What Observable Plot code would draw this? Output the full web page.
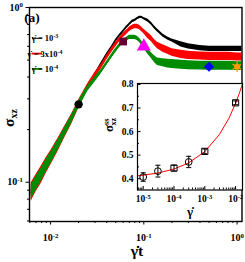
<!DOCTYPE html>
<html><head><meta charset="utf-8">
<script src="https://cdn.jsdelivr.net/npm/d3@7"></script>
<script src="https://cdn.jsdelivr.net/npm/@observablehq/plot@0.6"></script>
<style>
html,body{margin:0;padding:0;background:#fff;}
#wrap{position:relative;width:245px;height:262px;overflow:hidden;}
#wrap svg{position:absolute;left:0;top:0;}
</style></head><body><div id="wrap"></div>
<script>
// ---- main panel data: strain (γ̇t) samples and stress traces ----
const strainT = [0.0062,0.007,0.008,0.009,0.01,0.012,0.014,0.017,0.02,0.025,0.03,0.035,0.04,0.045,0.05,0.055,0.06,0.065,0.07,0.075,0.08,0.085,0.09,0.095,0.1,0.11,0.12,0.13,0.14,0.16,0.18,0.2,0.25,0.3,0.4,0.5,0.6,0.7,0.8,1.0,1.13];
const sigBlack = [0.0877,0.0987,0.111,0.125,0.137,0.163,0.191,0.232,0.279,0.35,0.414,0.479,0.539,0.591,0.648,0.692,0.729,0.769,0.800,0.832,0.843,0.865,0.877,0.877,0.865,0.843,0.810,0.769,0.739,0.692,0.665,0.648,0.615,0.599,0.585,0.579,0.579,0.579,0.579,0.579,0.579];
const sigRed   = [0.0877,0.0987,0.111,0.125,0.137,0.163,0.191,0.232,0.279,0.35,0.409,0.460,0.518,0.568,0.615,0.656,0.692,0.720,0.749,0.769,0.779,0.779,0.769,0.749,0.729,0.692,0.665,0.631,0.606,0.583,0.568,0.553,0.539,0.532,0.528,0.525,0.525,0.525,0.525,0.521,0.521];
const sigGreen = [0.0877,0.0987,0.111,0.125,0.137,0.163,0.191,0.232,0.279,0.344,0.388,0.431,0.479,0.525,0.568,0.606,0.639,0.656,0.674,0.674,0.674,0.665,0.648,0.623,0.599,0.561,0.532,0.506,0.489,0.483,0.477,0.475,0.470,0.467,0.465,0.464,0.464,0.464,0.464,0.462,0.462];
// fluctuation amplitude (multiplicative)
const noiseBlack = [1.04,1.04,1.035,1.035,1.03,1.03,1.03,1.025,1.025,1.02,1.02,1.015,1.015,1.015,1.015,1.015,1.015,1.015,1.015,1.015,1.015,1.015,1.015,1.015,1.015,1.02,1.02,1.02,1.02,1.02,1.02,1.02,1.035,1.035,1.035,1.035,1.035,1.035,1.035,1.035,1.035];
const noiseRed   = [1.13,1.12,1.12,1.11,1.1,1.09,1.08,1.07,1.06,1.045,1.04,1.03,1.03,1.03,1.03,1.03,1.03,1.03,1.03,1.03,1.03,1.03,1.03,1.03,1.03,1.04,1.04,1.04,1.045,1.05,1.05,1.05,1.055,1.055,1.055,1.055,1.055,1.055,1.055,1.055,1.055];
const noiseGreen = [1.1,1.1,1.09,1.09,1.08,1.07,1.065,1.055,1.05,1.04,1.035,1.028,1.028,1.028,1.028,1.028,1.028,1.028,1.028,1.028,1.028,1.028,1.028,1.028,1.028,1.035,1.04,1.045,1.05,1.055,1.06,1.06,1.06,1.06,1.06,1.06,1.06,1.06,1.06,1.06,1.06];
const legendBase = ["γ̇ = 10","γ̇ = 3x10","γ̇ = 10"];
const legendExp  = ["-3","-4","-4"];
// highlighted states on the γ̇ = 1e-4 trace
const markT = [0.02,0.06,0.1,0.5,1.0];
const markS = [0.279,0.639,0.599,0.458,0.458];
// main axis ticks
const xMajor = [0.01,0.1,1];
const xMinor = [0.006,0.007,0.008,0.009,0.02,0.03,0.04,0.05,0.06,0.07,0.08,0.09,0.2,0.3,0.4,0.5,0.6,0.7,0.8,0.9];
const yMajor = [0.1,1];
const yMinor = [0.06,0.07,0.08,0.09,0.2,0.3,0.4,0.5,0.6,0.7,0.8,0.9];
// ---- inset data ----
const rateSS = [1e-5,3e-5,1e-4,3e-4,1e-3,1e-2];
const sigSS = [0.407,0.432,0.445,0.471,0.516,0.722];
const sigSSErr = [0.018,0.025,0.012,0.024,0.010,0.008];
const shapeSS = ["circle","circle","square","circle","square","square"];
const fitRate = [6.3e-6,1e-5,3e-5,1e-4,3e-4,1e-3,3e-3,6e-3,1e-2,1.3e-2,1.65e-2];
const fitSig  = [0.412,0.415,0.424,0.441,0.467,0.515,0.588,0.655,0.720,0.760,0.800];
const inXMajor = [1e-5,1e-4,1e-3,1e-2];
const inXMinor = [7e-6,8e-6,9e-6,2e-5,3e-5,4e-5,5e-5,6e-5,7e-5,8e-5,9e-5,2e-4,3e-4,4e-4,5e-4,6e-4,7e-4,8e-4,9e-4,2e-3,3e-3,4e-3,5e-3,6e-3,7e-3,8e-3,9e-3];
const inYMajor = [0.4,0.5,0.6,0.7,0.8];
const inYMinor = [0.45,0.55,0.65,0.75];

const serif = "'Liberation Serif','Times New Roman',serif";
const cBlack = "#000", cRed = "#ff0000", cGreen = "#008c00";
const colors = [cBlack, cRed, cGreen];

function rows(sig, noise){ return strainT.map((t,i)=>({t, s:sig[i], lo:sig[i]/noise[i], hi:sig[i]*noise[i]})); }
const rB = rows(sigBlack, noiseBlack), rR = rows(sigRed, noiseRed), rG = rows(sigGreen, noiseGreen);
const marks = markT.map((t,i)=>({t, s:markS[i]}));
const fmtPow = d => "10^" + Math.round(Math.log10(d));

function trace(r, c, w){
  return [Plot.areaY(r,{x:"t",y1:"lo",y2:"hi",fill:c,clip:true}),
          Plot.lineY(r,{x:"t",y:"s",stroke:c,strokeWidth:w,clip:true})];
}

const main = Plot.plot({
  width:245, height:262, marginLeft:29, marginRight:3.5, marginTop:7, marginBottom:41,
  style:{fontFamily:serif, fontSize:"10px", fontWeight:"bold", background:"#fff", color:"#000"},
  x:{type:"log", domain:[0.00595,1.128], axis:null, label:null},
  y:{type:"log", domain:[0.0596,1], axis:null, label:null},
  marks:[
    ...trace(rB,cBlack,1), ...trace(rR,cRed,1), ...trace(rG,cGreen,1),
    Plot.dot([marks[0]],{x:"t",y:"s",symbol:"circle",fill:"#000",r:4.2}),
    Plot.dot([marks[1]],{x:"t",y:"s",symbol:"square",fill:"#660033",r:4.4}),
    Plot.dot([marks[2]],{x:"t",y:"s",symbol:"triangle",fill:"#ff00ff",r:5.2}),
    Plot.dot([marks[3]],{x:"t",y:"s",symbol:"diamond2",fill:"#0000ff",r:4.6}),
    Plot.dot([marks[4]],{x:"t",y:"s",symbol:"circle",fill:"#ff9900",r:3}),
    Plot.dot([marks[4]],{x:"t",y:"s",symbol:"asterisk",stroke:"#ff9900",strokeWidth:1.2,r:5}),
    Plot.axisX({ticks:xMajor, tickSize:3.5, tickPadding:9, tickFormat:fmtPow, label:null}),
    Plot.axisX({ticks:xMinor, tickSize:2, fill:"none", label:null}),
    Plot.axisY({ticks:yMajor, tickSize:3.5, tickPadding:3, tickFormat:fmtPow, label:null}),
    Plot.axisY({ticks:yMinor, tickSize:2, fill:"none", label:null}),
    Plot.frame({stroke:"#000", strokeWidth:1.4})
  ]
});

const ss = rateSS.map((x,i)=>({x, s:sigSS[i], lo:sigSS[i]-sigSSErr[i], hi:sigSS[i]+sigSSErr[i], shape:shapeSS[i]}));
const fit = fitRate.map((x,i)=>({x, s:fitSig[i]}));
const cap = {draw(ctx, size){ const w = Math.sqrt(size/Math.PI); ctx.moveTo(-w,0); ctx.lineTo(w,0); }};

const inset = Plot.plot({
  width:145, height:142, marginLeft:37, marginRight:3, marginTop:3, marginBottom:32.5,
  style:{fontFamily:serif, fontSize:"9.5px", fontWeight:"bold", background:"transparent", color:"#000"},
  x:{type:"log", domain:[6.53e-6,0.01675], axis:null, label:null},
  y:{domain:[0.352,0.804], axis:null, label:null},
  marks:[
    Plot.frame({fill:"#fff"}),
    Plot.line(fit,{x:"x",y:"s",stroke:cRed,strokeWidth:1,clip:true}),
    Plot.ruleX(ss,{x:"x",y1:"lo",y2:"hi",stroke:"#000",strokeWidth:1}),
    Plot.dot(ss,{x:"x",y:"lo",symbol:cap,r:2.5,stroke:"#000",strokeWidth:1}),
    Plot.dot(ss,{x:"x",y:"hi",symbol:cap,r:2.5,stroke:"#000",strokeWidth:1}),
    Plot.dot(ss,{filter:d=>d.shape==="circle",x:"x",y:"s",symbol:"circle",r:3.4,stroke:"#000",fill:"none",strokeWidth:1}),
    Plot.dot(ss,{filter:d=>d.shape==="square",x:"x",y:"s",symbol:"square",r:3.5,stroke:"#000",fill:"none",strokeWidth:1}),
    Plot.axisX({ticks:inXMajor, tickSize:-3.5, tickPadding:9, tickFormat:fmtPow, label:null}),
    Plot.axisX({ticks:inXMinor, tickSize:-2, fill:"none", label:null}),
    Plot.axisY({ticks:inYMajor, tickSize:-3.5, tickPadding:7.5, tickFormat:d=>d.toFixed(1), label:null}),
    Plot.axisY({ticks:inYMinor, tickSize:-2, fill:"none", label:null}),
    Plot.frame({stroke:"#000", strokeWidth:1.2})
  ]
});

function sup(svg){
  d3.select(svg).selectAll("text").each(function(){
    const m = /^10\^(.+)$/.exec(this.textContent);
    if(m){ const s = d3.select(this); s.text("10"); s.append("tspan").attr("dy","-0.5em").attr("font-size","68%").text(m[1]); }
  });
}
sup(main); sup(inset);

const wrap = document.getElementById("wrap");
wrap.appendChild(main);
inset.style.left = "100px"; inset.style.top = "80px";
wrap.appendChild(inset);

// annotations on main
const M = d3.select(main);
const g = M.append("g").attr("font-family",serif).attr("fill","#000");
g.append("text").attr("x",32).attr("y",22).attr("font-size",13.5).attr("font-weight","bold").text("(a)");
const lg = g.append("g").attr("font-size",8.5).attr("font-weight","bold");
legendBase.forEach((b,i)=>{
  const y = 38.3 + 15.3*i;
  lg.append("line").attr("x1",32).attr("x2",42).attr("y1",y).attr("y2",y).attr("stroke",colors[i]).attr("stroke-width",i?1.8:1);
  const t = lg.append("text").attr("x",45).attr("y",y+3);
  t.append("tspan").text(b);
  t.append("tspan").attr("dy","-0.5em").attr("font-size","68%").text(legendExp[i]);
});
g.append("text").attr("x",137).attr("y",256).attr("text-anchor","middle").attr("font-size",15.5).text("γ̇t");
const yl = g.append("text").attr("transform","translate(14,118) rotate(-90)").attr("text-anchor","middle").attr("font-size",15.5);
yl.append("tspan").text("σ");
yl.append("tspan").attr("dy","0.3em").attr("font-size","65%").text("xz");

// annotations on inset
const I = d3.select(inset);
const gi = I.append("g").attr("font-family",serif).attr("fill","#000");
gi.append("text").attr("x",90).attr("y",136).attr("text-anchor","middle").attr("font-size",13).text("γ̇");
const il = gi.append("text").attr("transform","translate(13,45) rotate(-90)").attr("text-anchor","middle").attr("font-size",13);
il.append("tspan").text("σ");
il.append("tspan").attr("dy","-0.55em").attr("font-size","62%").text("ss");
il.append("tspan").attr("dx","-0.85em").attr("dy","0.95em").attr("font-size","62%").text("xz");
</script></body></html>
